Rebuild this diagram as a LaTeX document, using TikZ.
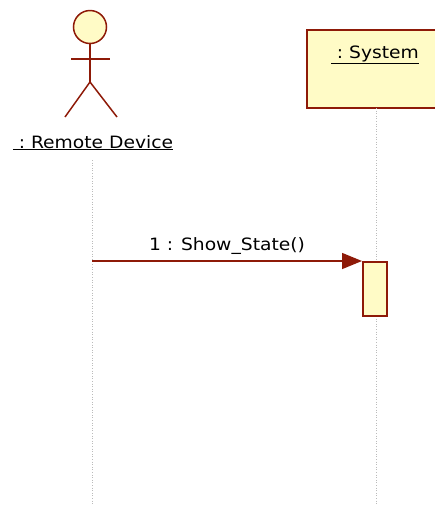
\documentclass[tikz,border=0pt]{standalone}
\usepackage{fontspec}
\setmainfont[FakeStretch=1.1]{DejaVu Sans}
\usetikzlibrary{arrows.meta}
\definecolor{umlred}{HTML}{8E1A08}
\definecolor{umlfill}{HTML}{FFFBC6}
\definecolor{lifegray}{HTML}{BBBBBB}
\tikzset{
  umlline/.style={draw=umlred, line width=1.5pt},
  lifeline/.style={draw=lifegray, line width=0.6pt, dotted},
  lbl/.style={font=\fontsize{17}{19}\selectfont, inner sep=0pt, anchor=base},
  msg/.style={umlred, line width=1.5pt, -{Triangle[length=20pt,width=16pt]}},
}
\begin{document}
\begin{tikzpicture}[x=1pt,y=-1pt]
\useasboundingbox (0,0) rectangle (435,507);
% actor
\node[circle, umlline, fill=umlfill, minimum size=33pt, inner sep=0pt] (head) at (90,27) {};
\coordinate (hip) at (90,82);
\coordinate (armL) at (71,59);
\coordinate (armR) at (110,59);
\coordinate (legL) at (65,117);
\coordinate (legR) at (117,117);
\draw[umlline] (head.south) -- (hip);
\draw[umlline] (armL) -- (armR);
\draw[umlline] (legL) -- (hip) -- (legR);
\node[lbl] (actorlbl) at (93,148) {\underline{\ :\ Remote Device}};
% system
\node[draw=umlred, line width=1.5pt, fill=umlfill, minimum width=140pt, minimum height=78pt, inner sep=0pt, anchor=north west] (sys) at (306,29) {};
\node[lbl] (syslbl) at (375,58) {\underline{\ :\ System}};
% lifelines
\coordinate (l1top) at (92,160);
\coordinate (l1bot) at (92,505);
\coordinate (l2top) at (376,108);
\coordinate (l2bot) at (376,505);
\draw[lifeline] (l1top) -- (l1bot);
\draw[lifeline] (l2top) -- (l2bot);
% activation
\node[draw=umlred, line width=1.5pt, fill=umlfill, minimum width=24pt, minimum height=54pt, inner sep=0pt, anchor=north west] (act) at (362,261) {};
% message
\coordinate (msrc) at (92,261);
\draw[msg] (msrc) -- (act.north west);
\node[lbl] (msglbl) at (227,250) {1 : Show\_State()};
\end{tikzpicture}
\end{document}
